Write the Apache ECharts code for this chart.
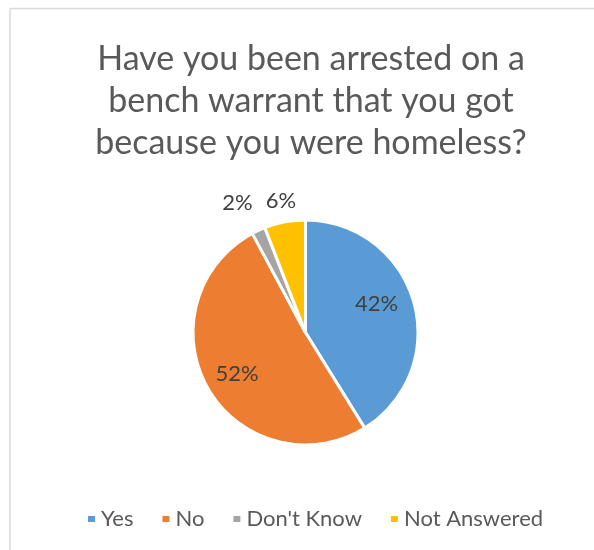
<!DOCTYPE html>
<html>
<head>
<meta charset="utf-8">
<script src="https://cdn.jsdelivr.net/npm/echarts@6/dist/echarts.min.js"></script>
<style>
  html, body { margin: 0; padding: 0; background: #ffffff; }
  #chart { width: 594px; height: 550px; }
</style>
</head>
<body>
<div id="chart"></div>
<script>
// Survey answers (percent of respondents)
const titleLines = [
  'Have you been arrested on a',
  'bench warrant that you got',
  'because you were homeless?'
];
const categories = ['Yes', 'No', "Don't Know", 'Not Answered'];
const values = [42, 52, 2, 6];
const colors = ['#5B9BD5', '#ED7D31', '#A5A5A5', '#FFC000'];

// label placement: distance from centre (fraction of radius) and a small angular nudge (degrees)
const labelDist = [0.68, 0.71, 1.3, 1.19];
const labelTurn = [-6, -1, -3, 0];

const CX = 305.5, CY = 332.5, R = 112.5;
const FONT = 'Lato';

const total = values.reduce((a, b) => a + b, 0);
function midAngle(i) {
  let before = 0;
  for (let k = 0; k < i; k++) before += values[k];
  return (before + values[i] / 2) / total * Math.PI * 2;
}

const chart = echarts.init(document.getElementById('chart'), null, { renderer: 'canvas' });

chart.setOption({
  backgroundColor: '#ffffff',
  animation: false,
  title: {
    text: titleLines.join('\n'),
    left: 306,
    textAlign: 'center',
    top: 33,
    textStyle: {
      fontFamily: FONT,
      fontSize: 34,
      fontWeight: 'normal',
      color: '#595959',
      lineHeight: 42
    }
  },
  legend: {
    data: categories,
    bottom: 15,
    left: 81,
    icon: 'rect',
    itemWidth: 9,
    itemHeight: 8,
    itemGap: 27,
    textStyle: { fontFamily: FONT, fontSize: 22, color: '#595959', padding: [0, 0, 0, 0] }
  },
  graphic: [
    { type: 'line', shape: { x1: 10, y1: 8.5, x2: 594, y2: 8.5 }, style: { stroke: '#d9d9d9', lineWidth: 1.5 } },
    { type: 'line', shape: { x1: 10, y1: 8.5, x2: 10, y2: 550 }, style: { stroke: '#d9d9d9', lineWidth: 1.5 } }
  ],
  series: [{
    type: 'pie',
    center: [CX, CY],
    radius: [0, R],
    startAngle: 90,
    clockwise: true,
    silent: true,
    itemStyle: { borderColor: '#ffffff', borderWidth: 3 },
    label: {
      show: true,
      position: 'inside',
      formatter: p => p.value + '%',
      fontFamily: FONT,
      fontSize: 22,
      color: '#404040'
    },
    labelLine: { show: false },
    labelLayout: p => {
      const i = p.dataIndex;
      const a = midAngle(i) + labelTurn[i] * Math.PI / 180;
      const d = labelDist[i] * R;
      return {
        x: CX + d * Math.sin(a),
        y: CY - d * Math.cos(a),
        align: 'center',
        verticalAlign: 'middle'
      };
    },
    data: categories.map((c, i) => ({
      name: c,
      value: values[i],
      itemStyle: { color: colors[i] }
    }))
  }]
});
</script>
</body>
</html>
